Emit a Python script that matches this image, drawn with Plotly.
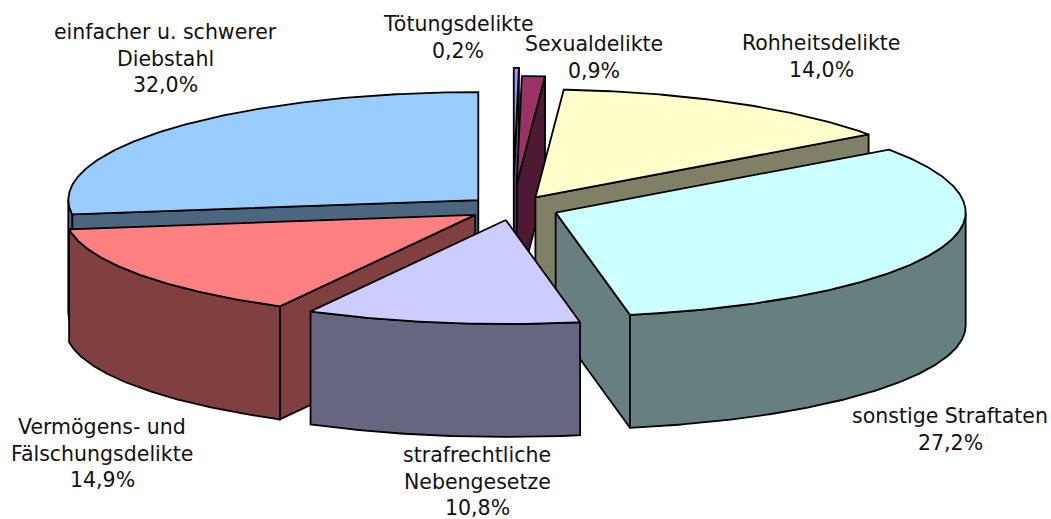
import math
import plotly.graph_objects as go

# Slices clockwise from 12 o'clock
slice_names = ["Tötung", "Sexual", "Rohheit", "Sonstige", "Neben", "Vermögen", "Diebstahl"]
# Angular shares as drawn in the picture (the two largest wedges are swapped relative to their printed labels)
slice_shares = [0.2, 0.9, 14.0, 32.0, 10.8, 14.9, 27.2]
top_colors = ["#9999FF", "#993366", "#FFFFCC", "#CCFFFF", "#CCCCFF", "#FF8080", "#99CCFF"]
side_colors = ["#4D4D80", "#4D1933", "#808066", "#668080", "#666680", "#804040", "#4D6680"]
explode_px = [122, 91, 46, 46, 46, 46, 46]
paint_order = [0, 1, 2, 6, 3, 5, 4]

label_lines = [
    ["einfacher u. schwerer", "Diebstahl", "32,0%"],
    ["Tötungsdelikte", "0,2%"],
    ["Sexualdelikte", "0,9%"],
    ["Rohheitsdelikte", "14,0%"],
    ["sonstige Straftaten", "27,2%"],
    ["strafrechtliche", "Nebengesetze", "10,8%"],
    ["Vermögens- und", "Fälschungsdelikte", "14,9%"],
]
label_x = [165, 458, 594, 821, 950, 477, 102]
label_y0 = [32, 24, 44, 43, 416, 455, 427]
LINE_STEP = 26.5

CX, CY = 513, 208
RX, RY_BACK, RY_FRONT = 410, 108, 104
DEPTH = 113
EDGE = dict(color="#000000", width=1.8)


def rim(apex, deg):
    a = math.radians(deg)
    c = math.cos(a)
    return apex[0] + RX * math.sin(a), apex[1] - (RY_BACK if c > 0 else RY_FRONT) * c


def arc(apex, a, b):
    n = max(2, int(abs(b - a) * 2))
    return [rim(apex, a + (b - a) * i / n) for i in range(n + 1)]


def poly(fig, pts, color):
    pts = list(pts) + [pts[0]]
    fig.add_trace(go.Scatter(
        x=[p[0] for p in pts], y=[p[1] for p in pts], mode="lines", fill="toself",
        fillcolor=color, line=EDGE, hoverinfo="skip", showlegend=False))


def down(pts):
    return [(x, y + DEPTH) for x, y in pts]


fig = go.Figure()
total = sum(slice_shares)
starts, acc = [], 0.0
for s in slice_shares:
    starts.append(acc)
    acc += s * 360 / total

for i in paint_order:
    a = starts[i]
    b = a + slice_shares[i] * 360 / total
    mid = math.radians((a + b) / 2)
    apex = (CX + explode_px[i] * math.sin(mid), CY - explode_px[i] * RY_BACK / RX * math.cos(mid))
    walls = []
    if math.sin(math.radians(a)) < -1e-9:
        walls.append(a)
    if math.sin(math.radians(b)) > 1e-9:
        walls.append(b)
    for w in walls:
        r = rim(apex, w)
        poly(fig, [apex, r, (r[0], r[1] + DEPTH), (apex[0], apex[1] + DEPTH)], side_colors[i])
    lo, hi = max(a, 90), min(b, 270)
    if lo < hi:
        edge = arc(apex, lo, hi)
        poly(fig, edge + down(edge)[::-1], side_colors[i])
    poly(fig, [apex] + arc(apex, a, b), top_colors[i])

for lines, x, y0 in zip(label_lines, label_x, label_y0):
    for k, line in enumerate(lines):
        fig.add_annotation(x=x, y=y0 + k * LINE_STEP, text=line, showarrow=False,
                           xanchor="center", yanchor="middle", borderpad=0,
                           font=dict(family="DejaVu Sans", size=20.5, color="#111111"))

fig.update_xaxes(range=[0, 1051], visible=False, fixedrange=True)
fig.update_yaxes(range=[519, 0], visible=False, fixedrange=True)
fig.update_layout(width=1051, height=519, margin=dict(l=0, r=0, t=0, b=0),
                  paper_bgcolor="white", plot_bgcolor="white", showlegend=False)
fig.write_html("out.html", config={"displayModeBar": False},
               post_script="document.body.style.margin='0';document.documentElement.style.overflow='hidden';")
